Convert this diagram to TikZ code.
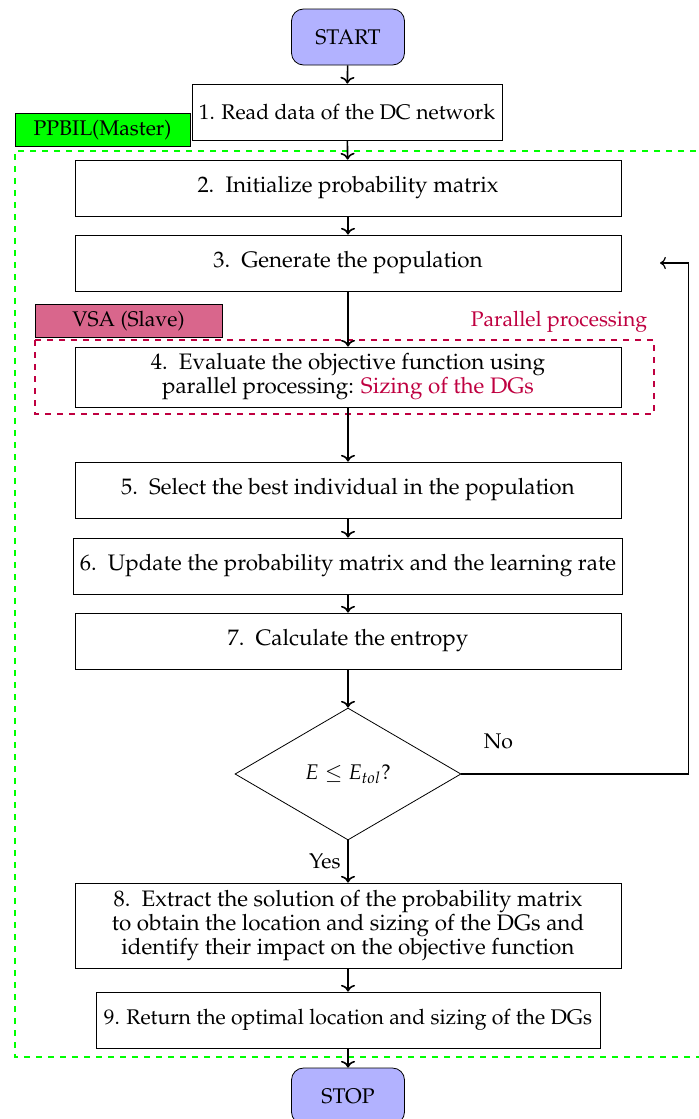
\documentclass[tikz,border=0pt]{standalone}
\usepackage[T1]{fontenc}
\usepackage{mathpazo}
\usepackage{amsmath}
\usepackage{amssymb}
\usepackage{tikz}
\usetikzlibrary{arrows.meta,shapes.geometric}

\begin{document}
\begin{tikzpicture}[x=0.5pt,y=-0.5pt,
    every node/.style={font=\fontsize{10.6pt}{11.8pt}\selectfont},
    stepbox/.style={rectangle, draw, align=center, minimum width=273pt, minimum height=28pt},
    bigstep/.style={stepbox, font=\fontsize{11.2pt}{12pt}\selectfont},
    termbox/.style={rectangle, draw, rounded corners=6pt, fill=blue!30, minimum width=56.5pt, minimum height=28pt},
    tagbox/.style={rectangle, draw, minimum height=15.5pt},
    flow/.style={thick,->}]

          % Variables
          \def \midx {348}

          \useasboundingbox (0,0) rectangle (699,1119);

          % Regions
          \draw[green, thick, dashed] (720,151) -- (15,151) -- (15,1057) -- (720,1057);
          \draw[purple, thick, dashed] (35,340) rectangle (654,414);
          \node[tagbox, fill=green, minimum width=87.5pt] (master) at (102.5,130) {PPBIL(Master)};
          \node[tagbox, fill=purple!60, minimum width=93.5pt] (slave) at (128.5,321) {VSA (Slave)};
          \node[purple] (par) at (559,322) {Parallel processing};

          % Start and stop
          \node[termbox] (start) at (\midx,37) {START};
          \node[termbox] (stop) at (\midx,1096) {STOP};

          % Steps
          \node[stepbox, minimum width=155pt] (s1) at (347,112) {1. Read data of the DC network};
          \node[bigstep] (s2) at (\midx,188) {2.\enspace Initialize probability matrix};
          \node[bigstep] (s3) at (\midx,263) {3.\enspace Generate the population};
          \node[bigstep, minimum height=30pt] (s4) at (\midx,377) {4.\enspace Evaluate the objective function using\\ parallel processing: \textcolor{purple}{Sizing of the DGs}};
          \node[bigstep] (s5) at (\midx,490) {5.\enspace Select the best individual in the population};
          \node[bigstep] (s6) at (\midx,566) {6.\enspace Update the probability matrix and the learning rate};
          \node[bigstep] (s7) at (\midx,641) {7.\enspace Calculate the entropy};
          \node[diamond, draw, minimum width=113pt, minimum height=66pt, inner sep=0pt] (dec) at (\midx,774) {$E \leq E_{tol}$?};
          \node[bigstep, minimum height=42.5pt] (s8) at (\midx,925.5) {8.\enspace Extract the solution of the probability matrix\\ to obtain the location and sizing of the DGs and\\ identify their impact on the objective function};
          \node[stepbox, minimum width=252pt] (s9) at (\midx,1020) {9. Return the optimal location and sizing of the DGs};

          % Arrows
          \coordinate (ret) at (660,263);
          \draw[flow] (start) -- (s1);
          \draw[flow] (s1) -- (s2);
          \draw[flow] (s2) -- (s3);
          \draw[flow] (s3) -- (s4);
          \draw[flow] (s4) -- (s5);
          \draw[flow] (s5) -- (s6);
          \draw[flow] (s6) -- (s7);
          \draw[flow] (s7) -- (dec);
          \draw[flow] (dec) -- node[left]{Yes} (s8);
          \draw[flow] (s8) -- (s9);
          \draw[flow] (s9) -- (stop);
          \draw[semithick, ->] (dec.east) -- node[pos=0.163, above=9pt]{No} ++(227,0) |- (ret);

        \end{tikzpicture}
\end{document}
